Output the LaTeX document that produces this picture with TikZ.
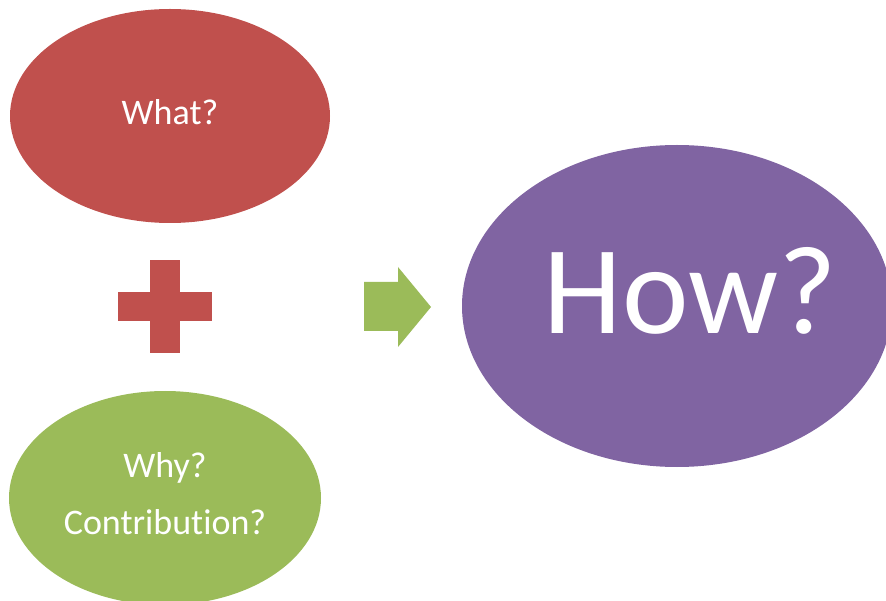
\documentclass[tikz,border=0pt]{standalone}
\usepackage{fontspec}
\setmainfont{Carlito}[RawFeature=-liga]
\usetikzlibrary{shapes.geometric}
\definecolor{cred}{HTML}{C0504D}
\definecolor{cgreen}{HTML}{9BBB59}
\definecolor{cpurple}{HTML}{8064A2}
\tikzset{
  blob/.style={ellipse, inner sep=0pt},
  label text/.style={text=white, align=center, inner sep=0pt, font=\fontsize{36}{57}\selectfont},
}
\begin{document}
\begin{tikzpicture}[x=1pt, y=-1pt]
  \useasboundingbox (0,0) rectangle (886,601);
  \clip (0,0) rectangle (886,601);
  % question ellipses
  \node[blob, fill=cred, minimum width=320pt, minimum height=214pt] (what) at (170,116) {};
  \node[blob, fill=cgreen, minimum width=312pt, minimum height=214pt] (why) at (165,498) {};
  \node[blob, fill=cpurple, minimum width=430pt, minimum height=322pt] (how) at (677,306) {};
  % their texts
  \node[label text] (whattext) at (170,112) {What?};
  \node[label text] (whytext) at (165,494) {Why?\\Contribution?};
  \node[label text, font=\fontsize{126}{130}\selectfont] (howtext) at (690,291) {How?};
  % plus sign
  \fill[cred] (150,260) rectangle (180,353);
  \fill[cred] (118,292) rectangle (212,321);
  % block arrow
  \fill[cgreen] (364,282) -- (398,282) -- (398,267) -- (431,307) -- (398,347) -- (398,331) -- (364,331) -- cycle;
\end{tikzpicture}
\end{document}
